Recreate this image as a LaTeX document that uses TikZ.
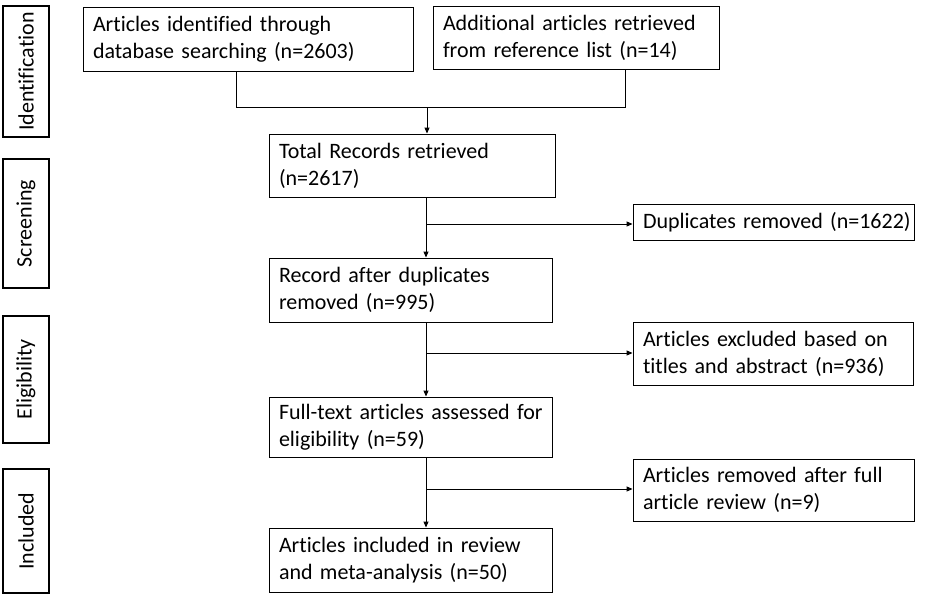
\documentclass[tikz,border=0pt]{standalone}
\usepackage{fontspec}
\setmainfont[RawFeature=-liga]{Carlito}
\usetikzlibrary{arrows.meta}
\newcommand{\boxfont}{\fontsize{22}{27}\selectfont\spaceskip=0.12em\relax}
\begin{document}
\begin{tikzpicture}[x=1pt,y=-1pt,
  box/.style={draw=black, line width=0.9pt, align=left, inner xsep=10pt, inner ysep=0pt, font=\boxfont},
  side/.style={draw=black, line width=1.5pt, rotate=90, inner sep=0pt, align=center, font=\boxfont},
  conn/.style={line width=0.9pt},
  arr/.style={conn, -{Triangle[length=6pt,width=5pt]}}]
\useasboundingbox (0,0) rectangle (935,600);
% side labels
\node[side, minimum width=131pt, minimum height=46pt] (s1) at (26,71.5) {Identification};
\node[side, minimum width=129pt, minimum height=46pt] (s2) at (26,223.5) {Screening};
\node[side, minimum width=127pt, minimum height=46pt] (s3) at (26,379.5) {Eligibility};
\node[side, minimum width=124pt, minimum height=46pt] (s4) at (26,531) {Included};
% boxes
\node[box, text width=310pt, minimum height=64pt] (a1) at (248,39) {\mbox{Articles identified through}\\\mbox{database searching (n=2603)}};
\node[box, text width=266pt, minimum height=63pt] (a2) at (576,37.5) {\mbox{Additional articles retrieved}\\\mbox{from reference list (n=14)}};
\node[box, text width=266pt, minimum height=63pt] (a3) at (412,165.5) {\mbox{Total Records retrieved}\\\mbox{(n=2617)}};
\node[box, text width=261pt, minimum height=36pt] (dup) at (773.5,222) {\mbox{Duplicates removed (n=1622)}};
\node[box, text width=263pt, minimum height=64pt] (a4) at (410.5,290) {\mbox{Record after duplicates}\\\mbox{removed (n=995)}};
\node[box, text width=260pt, minimum height=63pt] (exc) at (773,353.5) {\mbox{Articles excluded based on}\\\mbox{titles and abstract (n=936)}};
\node[box, text width=263pt, minimum height=60pt] (a5) at (410.5,427) {\mbox{Full-text articles assessed for}\\\mbox{eligibility (n=59)}};
\node[box, text width=261pt, minimum height=62pt] (rem) at (773.5,490) {\mbox{Articles removed after full}\\\mbox{article review (n=9)}};
\node[box, text width=263pt, minimum height=64pt] (a6) at (410.5,560) {\mbox{Articles included in review}\\\mbox{and meta-analysis (n=50)}};
% connectors
\coordinate (x1) at (236,0);
\coordinate (x2) at (625,0);
\coordinate (jn) at (427,107);
\coordinate (ax) at (426,0);
\draw[conn] (x1 |- a1.south) -- (x1 |- jn) -- (x2 |- jn) -- (x2 |- a2.south);
\draw[arr] (jn) -- (jn |- a3.north);
\draw[arr] (ax |- a3.south) -- (ax |- a4.north);
\draw[arr] (ax |- a4.south) -- (ax |- a5.north);
\draw[arr] (ax |- a5.south) -- (ax |- a6.north);
\coordinate (j2) at (426,224);
\coordinate (j3) at (426,353);
\coordinate (j4) at (426,489);
\draw[arr] (j2) -- (j2 -| dup.west);
\draw[arr] (j3) -- (j3 -| exc.west);
\draw[arr] (j4) -- (j4 -| rem.west);
\end{tikzpicture}
\end{document}
